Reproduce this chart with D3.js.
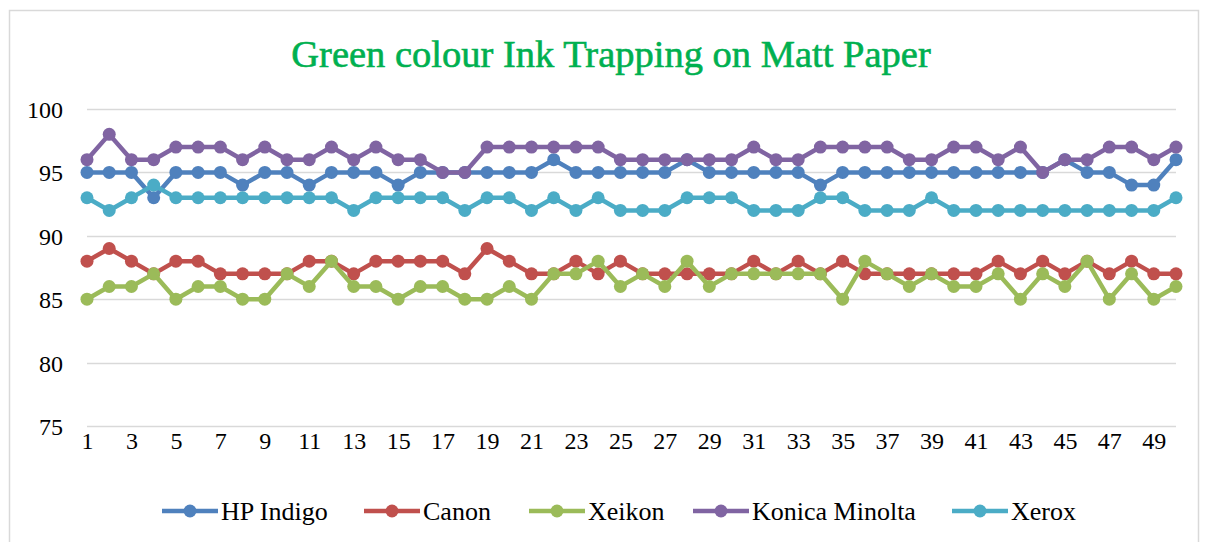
<!DOCTYPE html>
<html>
<head>
<meta charset="utf-8">
<script src="https://cdn.jsdelivr.net/npm/d3@7"></script>
<style>
	body { margin: 0; background: #fff; }
</style>
</head>
<body>
<div id="chart"></div>
<script>
	// sample numbers 1..50
	var samples = d3.range(1, 51);

	var seriesNames = ["HP Indigo", "Canon", "Xeikon", "Konica Minolta", "Xerox"];
	var seriesColors = ["#4F81BD", "#C0504D", "#9BBB59", "#8064A2", "#4BACC6"];

	var hpIndigo = [95,95,95,93,95,95,95,94,95,95,94,95,95,95,94,95,95,95,95,95,95,96,95,95,95,95,95,96,95,95,95,95,95,94,95,95,95,95,95,95,95,95,95,95,96,95,95,94,94,96];
	var canon = [88,89,88,87,88,88,87,87,87,87,88,88,87,88,88,88,88,87,89,88,87,87,88,87,88,87,87,87,87,87,88,87,88,87,88,87,87,87,87,87,87,88,87,88,87,88,87,88,87,87];
	var xeikon = [85,86,86,87,85,86,86,85,85,87,86,88,86,86,85,86,86,85,85,86,85,87,87,88,86,87,86,88,86,87,87,87,87,87,85,88,87,86,87,86,86,87,85,87,86,88,85,87,85,86];
	var konicaMinolta = [96,98,96,96,97,97,97,96,97,96,96,97,96,97,96,96,95,95,97,97,97,97,97,97,96,96,96,96,96,96,97,96,96,97,97,97,97,96,96,97,97,96,97,95,96,96,97,97,96,97];
	var xerox = [93,92,93,94,93,93,93,93,93,93,93,93,92,93,93,93,93,92,93,93,92,93,92,93,92,92,92,93,93,93,92,92,92,93,93,92,92,92,93,92,92,92,92,92,92,92,92,92,92,93];

	var yTicks = [75, 80, 85, 90, 95, 100];
	var xTickLabels = samples.filter(function(d) { return d % 2 == 1; });

	var seriesValues = [hpIndigo, canon, xeikon, konicaMinolta, xerox];

	var width = 1207,
		height = 542;

	var font = "Liberation Serif";

	var plot = { left: 87, right: 1176, top: 109, bottom: 426 };

	var svg = d3.select("#chart").append("svg")
		.attr("width", width)
		.attr("height", height)
		.attr("font-family", font)
		.style("display", "block");

	// chart border
	svg.append("rect")
		.attr("x", 9.5)
		.attr("y", 10.5)
		.attr("width", 1189)
		.attr("height", 540)
		.attr("fill", "#fff")
		.attr("stroke", "#D9D9D9")
		.attr("stroke-width", 1.5);

	svg.append("text")
		.attr("x", 611)
		.attr("y", 67)
		.attr("text-anchor", "middle")
		.attr("fill", "#00B050")
		.attr("stroke", "#00B050")
		.attr("stroke-width", 0.6)
		.style("font-family", font)
		.style("font-size", "38.5px")
		.text("Green colour Ink Trapping on Matt Paper");

	var xScale = d3.scalePoint()
		.domain(samples)
		.range([plot.left, plot.right]);

	var yScale = d3.scaleLinear()
		.domain([75, 100])
		.range([plot.bottom, plot.top]);

	// gridlines
	svg.append("g")
		.selectAll("line")
		.data(yTicks)
		.join("line")
		.attr("x1", plot.left)
		.attr("x2", plot.right)
		.attr("y1", function(d) { return Math.round(yScale(d)) + 0.5; })
		.attr("y2", function(d) { return Math.round(yScale(d)) + 0.5; })
		.attr("stroke", "#D9D9D9")
		.attr("stroke-width", 1.5);

	// y axis labels
	var yAxis = d3.axisLeft(yScale)
		.tickValues(yTicks)
		.tickSize(0)
		.tickPadding(24);

	svg.append("g")
		.attr("transform", "translate(" + plot.left + ",0)")
		.call(yAxis)
		.call(function(g) { g.select(".domain").remove(); })
		.attr("font-family", font)
		.selectAll("text")
		.attr("dy", "0.35em")
		.attr("fill", "#000")
		.style("font-size", "24px");

	// x axis labels (odd samples)
	var xAxis = d3.axisBottom(xScale)
		.tickValues(xTickLabels)
		.tickSize(0)
		.tickPadding(6);

	svg.append("g")
		.attr("transform", "translate(0," + plot.bottom + ")")
		.call(xAxis)
		.call(function(g) { g.select(".domain").remove(); })
		.attr("font-family", font)
		.selectAll("text")
		.attr("fill", "#000")
		.style("font-size", "24px");

	var line = d3.line()
		.x(function(d, i) { return xScale(samples[i]); })
		.y(function(d) { return yScale(d); });

	var series = svg.append("g")
		.selectAll("g")
		.data(seriesValues)
		.join("g");

	series.append("path")
		.attr("d", function(d) { return line(d); })
		.attr("fill", "none")
		.attr("stroke", function(d, i) { return seriesColors[i]; })
		.attr("stroke-width", 4.5)
		.attr("stroke-linejoin", "round");

	series.each(function(vals, si) {
		d3.select(this).selectAll("circle")
			.data(vals)
			.join("circle")
			.attr("cx", function(d, i) { return xScale(samples[i]); })
			.attr("cy", function(d) { return yScale(d); })
			.attr("r", 6.5)
			.attr("fill", seriesColors[si]);
	});

	// legend
	var legendX = [162, 364, 529, 693, 952];
	var legend = svg.append("g")
		.attr("font-family", font)
		.selectAll("g")
		.data(seriesNames)
		.join("g")
		.attr("transform", function(d, i) { return "translate(" + legendX[i] + ",511)"; });

	legend.append("line")
		.attr("x1", 0)
		.attr("x2", 56)
		.attr("stroke", function(d, i) { return seriesColors[i]; })
		.attr("stroke-width", 4.5);

	legend.append("circle")
		.attr("cx", 28)
		.attr("r", 6.5)
		.attr("fill", function(d, i) { return seriesColors[i]; });

	legend.append("text")
		.attr("x", 59)
		.attr("dy", "0.35em")
		.attr("fill", "#000")
		.attr("font-weight", "normal")
		.style("font-family", font)
		.style("font-size", "26px")
		.text(function(d) { return d; });
</script>
</body>
</html>
